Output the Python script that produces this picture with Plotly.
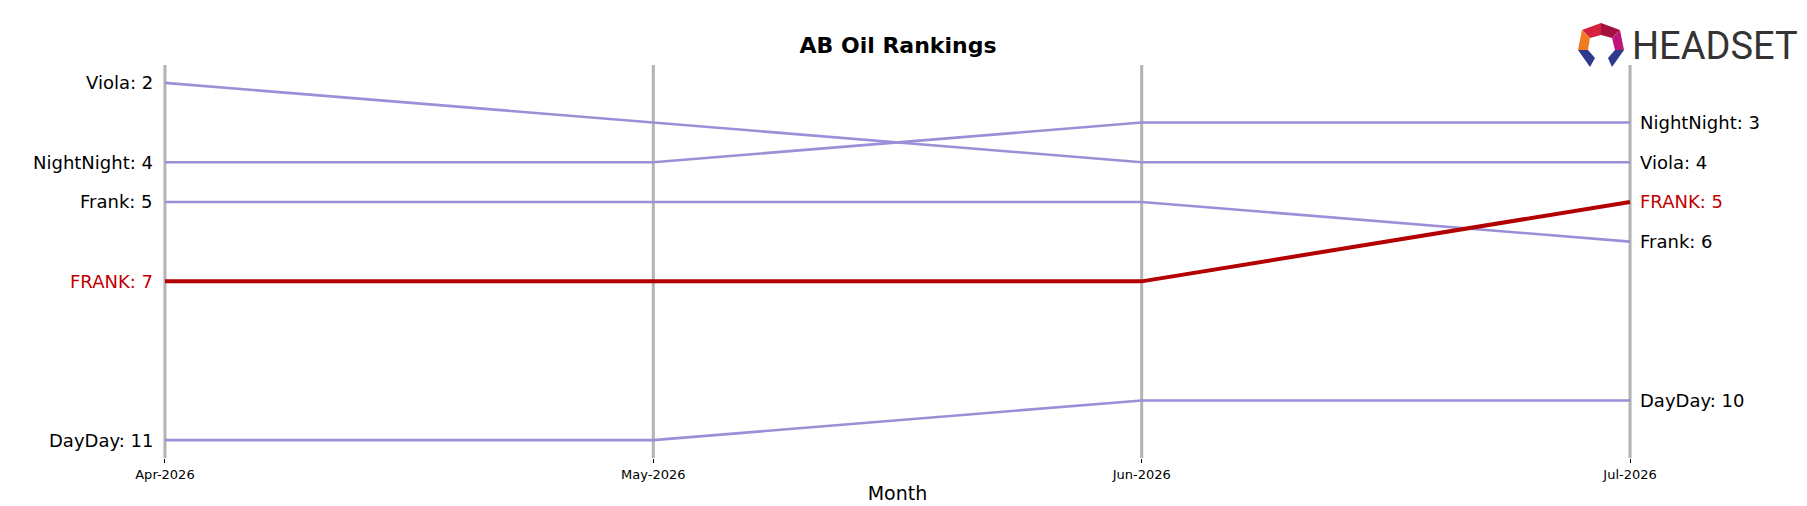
import plotly.graph_objects as go

months = ["Apr-2026", "May-2026", "Jun-2026", "Jul-2026"]
names = ["Viola", "NightNight", "Frank", "FRANK", "DayDay"]
ranks = {
    "Viola": [2, 3, 4, 4],
    "NightNight": [4, 4, 3, 3],
    "Frank": [5, 5, 5, 6],
    "FRANK": [7, 7, 7, 5],
    "DayDay": [11, 11, 10, 10],
}
highlight = "FRANK"

fig = go.Figure()
xs = list(range(len(months)))
for i in xs:
    fig.add_shape(type="line", x0=i, x1=i, y0=0, y1=1, xref="x", yref="paper",
                  line=dict(color="#b3b3b3", width=3), layer="below")
for n in names:
    hl = n == highlight
    fig.add_trace(go.Scatter(x=xs, y=ranks[n], mode="lines", cliponaxis=False,
                             line=dict(color="#b30000" if hl else "#9b8fd8", width=4 if hl else 2.6),
                             showlegend=False, hoverinfo="skip"))
    col = "#c00000" if hl else "black"
    fig.add_annotation(x=0, y=ranks[n][0], text=f"{n}: {ranks[n][0]}", xanchor="right", xshift=-10,
                       showarrow=False, font=dict(size=18, color=col))
    fig.add_annotation(x=3, y=ranks[n][-1], text=f"{n}: {ranks[n][-1]}", xanchor="left", xshift=8,
                       showarrow=False, font=dict(size=18, color=col))

def px(x): return (x - 155) / 1469
def py(y): return (450 - y) / 393

# logo
polys = [
    ([(1574, 22), (1593, 15), (1593, 27), (1582, 30)], "#d4213d"),
    ([(1593, 15), (1612, 22), (1604, 30), (1593, 27)], "#a3123f"),
    ([(1574, 22), (1582, 30), (1580, 42), (1570, 42)], "#f07a22"),
    ([(1612, 22), (1616, 42), (1607, 42), (1604, 30)], "#c0157a"),
    ([(1570, 42), (1580, 42), (1587, 50), (1582, 59)], "#2e3a8c"),
    ([(1616, 42), (1607, 42), (1600, 50), (1604, 59)], "#2e3a8c"),
]
for pts, c in polys:
    path = "M " + " L ".join(f"{px(a):.5f},{py(b):.5f}" for a, b in pts) + " Z"
    fig.add_shape(type="path", path=path, xref="paper", yref="paper", fillcolor=c, line=dict(width=0))
fig.add_annotation(x=px(1622), y=py(38), xref="paper", yref="paper", text="HEADSET", xanchor="left",
                   yanchor="middle", showarrow=False,
                   font=dict(size=38, color="#333333", family="Roboto"))

fig.update_layout(
    width=1807, height=506, plot_bgcolor="white", paper_bgcolor="white",
    margin=dict(l=155, r=183, t=57, b=56),
    title=dict(text="<b>AB Oil Rankings</b>", x=890 / 1807, xanchor="center", y=1 - 37 / 506, yanchor="middle",
               font=dict(size=22, color="black", family="DejaVu Sans")),
    font=dict(family="DejaVu Sans"),
    xaxis=dict(range=[-0.004, 3.004], tickvals=xs, ticktext=months, showgrid=False, zeroline=False, ticks="outside",
               ticklen=4, tickcolor="black", tickfont=dict(size=13, color="black"),
               title=dict(text="Month", font=dict(size=19, color="black"), standoff=6)),
    yaxis=dict(range=[11.45, 1.55], visible=False),
)
fig.write_html("out.html")
